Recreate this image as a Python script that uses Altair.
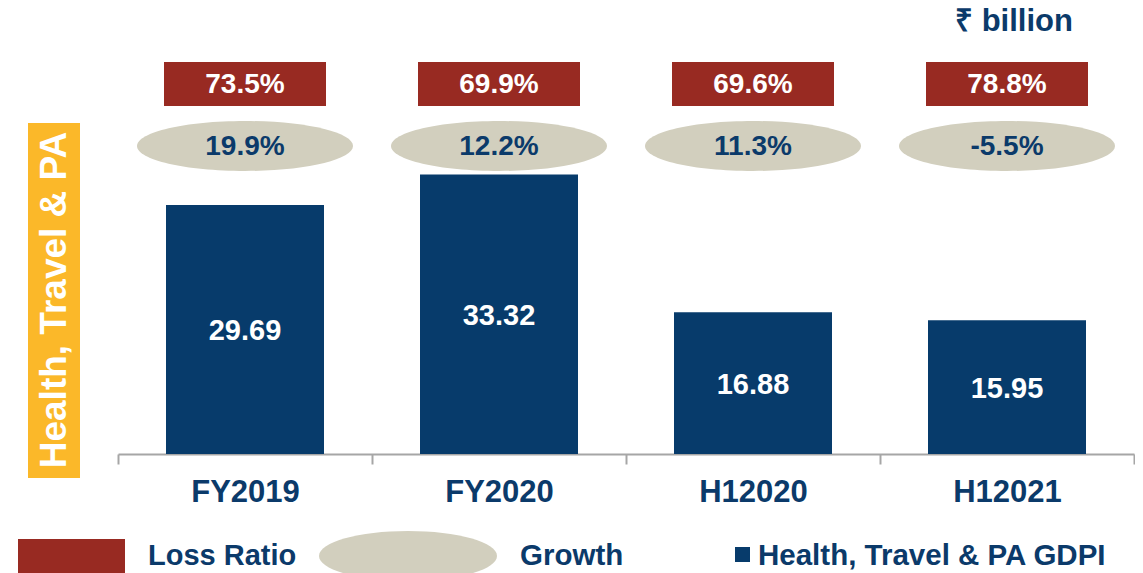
import altair as alt
import pandas as pd

categories = ["FY2019", "FY2020", "H12020", "H12021"]
gdpi = [29.69, 33.32, 16.88, 15.95]
loss_ratio = ["73.5%", "69.9%", "69.6%", "78.8%"]
growth = ["19.9%", "12.2%", "11.3%", "-5.5%"]

BLUE = "#073B6B"
TEXT_BLUE = "#0B3A6A"
RED = "#982A22"
BEIGE = "#D2CFBE"
ORANGE = "#FBB829"
FONT = "Liberation Sans"
YMAX = 52.2

df = pd.DataFrame({"cat": categories, "value": gdpi, "loss": loss_ratio, "growth": growth})
one = pd.DataFrame({"k": [0]})

X = alt.X(
    "cat:N",
    sort=categories,
    scale=alt.Scale(paddingInner=0, paddingOuter=0),
    axis=alt.Axis(
        title=None,
        labelAngle=0,
        labelFont=FONT,
        labelFontSize=31,
        labelFontWeight="bold",
        labelColor=TEXT_BLUE,
        labelPadding=13,
        domainColor="#A6A6A6",
        domainWidth=2,
        tickColor="#A6A6A6",
        tickWidth=2,
        tickSize=10,
        tickBand="extent",
        grid=False,
    ),
)
Y = alt.Y("value:Q", scale=alt.Scale(domain=[0, YMAX], nice=False, zero=True), axis=None)

base = alt.Chart(df)

bars = base.mark_bar(size=158, color=BLUE).encode(x=X, y=Y)

bar_labels = base.transform_calculate(mid="datum.value / 2").mark_text(
    font=FONT, fontSize=29, fontWeight="bold", color="white", baseline="middle", dy=2
).encode(
    x=X,
    y=alt.Y("mid:Q", scale=alt.Scale(domain=[0, YMAX], nice=False), axis=None),
    text=alt.Text("value:Q", format=".2f"),
)

loss_boxes = base.mark_bar(size=162, color=RED).encode(
    x=X, y=alt.value(46), y2=alt.value(90)
)
loss_text = base.mark_text(
    font=FONT, fontSize=28, fontWeight="bold", color="white", baseline="middle"
).encode(x=X, y=alt.value(69), text="loss:N")

ellipse_path = "M-1,0 A1,0.2315 0 1,0 1,0 A1,0.2315 0 1,0 -1,0 Z"
ellipses = base.mark_point(
    shape=ellipse_path, filled=True, size=216 * 216, color=BEIGE, opacity=1, strokeWidth=0
).encode(x=X, y=alt.value(130))
growth_text = base.mark_text(
    font=FONT, fontSize=28, fontWeight="bold", color=TEXT_BLUE, baseline="middle"
).encode(x=X, y=alt.value(131), text="growth:N")

# side title box
side_box = alt.Chart(one).mark_rect(color=ORANGE).encode(
    x=alt.value(-90), x2=alt.value(-38), y=alt.value(107), y2=alt.value(462)
)
side_text = alt.Chart(one).mark_text(
    text="Health, Travel & PA", angle=270, font=FONT, fontSize=37, fontWeight="bold",
    color="white", baseline="middle", align="center"
).encode(x=alt.value(-63), y=alt.value(284))

unit_text = alt.Chart(one).mark_text(
    text="₹ billion", font=FONT, fontSize=31, fontWeight="bold", color=TEXT_BLUE,
    baseline="middle", align="center"
).encode(x=alt.value(896), y=alt.value(6))

# legend
LEG_Y = 540
leg_red = alt.Chart(one).mark_rect(color=RED).encode(
    x=alt.value(-100), x2=alt.value(7), y=alt.value(523), y2=alt.value(562)
)
leg_red_text = alt.Chart(one).mark_text(
    text="Loss Ratio", font=FONT, fontSize=29, fontWeight="bold", color=TEXT_BLUE,
    baseline="middle", align="left"
).encode(x=alt.value(30), y=alt.value(LEG_Y))
leg_ell_path = "M-1,0 A1,0.28 0 1,0 1,0 A1,0.28 0 1,0 -1,0 Z"
leg_ell = alt.Chart(one).mark_point(
    shape=leg_ell_path, filled=True, size=178 * 178, color=BEIGE, opacity=1, strokeWidth=0
).encode(x=alt.value(290), y=alt.value(LEG_Y))
leg_ell_text = alt.Chart(one).mark_text(
    text="Growth", font=FONT, fontSize=29.5, fontWeight="bold", color=TEXT_BLUE,
    baseline="middle", align="left"
).encode(x=alt.value(402), y=alt.value(LEG_Y))
leg_sq = alt.Chart(one).mark_rect(color=BLUE).encode(
    x=alt.value(617), x2=alt.value(632), y=alt.value(531), y2=alt.value(546)
)
leg_sq_text = alt.Chart(one).mark_text(
    text="Health, Travel & PA GDPI", font=FONT, fontSize=29.5, fontWeight="bold",
    color=TEXT_BLUE, baseline="middle", align="left"
).encode(x=alt.value(640), y=alt.value(LEG_Y))

chart = alt.layer(
    bars, bar_labels, loss_boxes, loss_text, ellipses, growth_text,
    side_box, side_text, unit_text,
    leg_red, leg_red_text, leg_ell, leg_ell_text, leg_sq, leg_sq_text,
).properties(
    width=1016,
    height=438,
    autosize=alt.AutoSizeParams(type="none"),
    padding={"left": 110, "top": 8, "right": 1, "bottom": 119},
    background="white",
).configure_view(stroke=None)

chart.save("out.html", embed_options={"renderer": "svg", "actions": False})
